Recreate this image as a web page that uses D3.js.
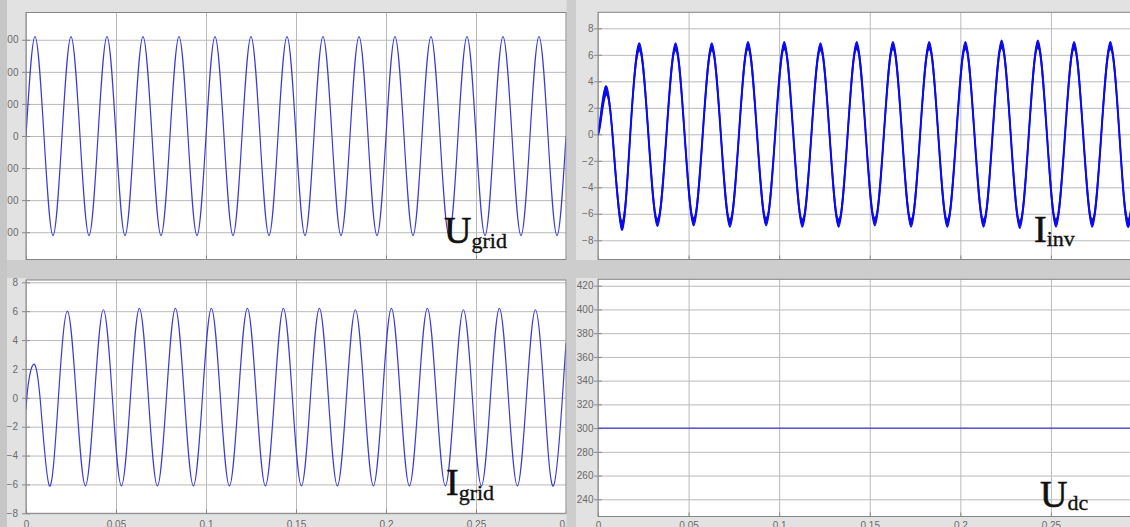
<!DOCTYPE html>
<html>
<head>
<meta charset="utf-8">
<script src="https://cdn.jsdelivr.net/npm/d3@7"></script>
<style>
  html, body { margin: 0; padding: 0; background: #d0d0d0; }
  svg { display: block; }
</style>
</head>
<body>
<svg id="chart" width="1130" height="527"></svg>
<script>
// ---------- data ----------
const xTicks = [0, 0.05, 0.1, 0.15, 0.2, 0.25, 0.3];
const xTickLabels = ["0", "0.05", "0.1", "0.15", "0.2", "0.25", "0.3"];

const ugridTicks = [-300, -200, -100, 0, 100, 200, 300];
const iinvTicks = [-8, -6, -4, -2, 0, 2, 4, 6, 8];
const igridTicks = [-8, -6, -4, -2, 0, 2, 4, 6, 8];
const udcTicks = [240, 260, 280, 300, 320, 340, 360, 380, 400, 420];

// U_grid (V)
const ugridTime = [0,0.005,0.01,0.015,0.02,0.025,0.03,0.035,0.04,0.045,0.05,0.055,0.06,0.065,0.07,0.075,0.08,0.085,0.09,0.095,0.1,0.105,0.11,0.115,0.12,0.125,0.13,0.135,0.14,0.145,0.15,0.155,0.16,0.165,0.17,0.175,0.18,0.185,0.19,0.195,0.2,0.205,0.21,0.215,0.22,0.225,0.23,0.235,0.24,0.245,0.25,0.255,0.26,0.265,0.27,0.275,0.28,0.285,0.29,0.295,0.3];
const ugridValue = [
  0,310,0,-310, 0,310,0,-310, 0,310,0,-310, 0,310,0,-310, 0,310,0,-310,
  0,310,0,-310, 0,310,0,-310, 0,310,0,-310, 0,310,0,-310, 0,310,0,-310,
  0,310,0,-310, 0,310,0,-310, 0,310,0,-310, 0,310,0,-310, 0,310,0,-310,
  0];

// I_inv (A)
const iinvTime = [0,0.0015,0.0043,0.008,0.0131,
  0.0178,0.0228,0.0278,0.0328, 0.0378,0.0428,0.0478,0.0528, 0.0578,0.0628,0.0678,0.0728,
  0.0778,0.0828,0.0878,0.0928, 0.0978,0.1028,0.1078,0.1128, 0.1178,0.1228,0.1278,0.1328,
  0.1378,0.1428,0.1478,0.1528, 0.1578,0.1628,0.1678,0.1728, 0.1778,0.1828,0.1878,0.1928,
  0.1978,0.2028,0.2078,0.2128, 0.2178,0.2228,0.2278,0.2328, 0.2378,0.2428,0.2478,0.2528,
  0.2578,0.2628,0.2678,0.2728, 0.2778,0.2828,0.2878,0.2928,
  0.2978,0.3];
const iinvValue = [0,1.2,3.3,0,-6.9,
  0,6.6,0,-6.65, 0,6.6,0,-6.6, 0,6.6,0,-6.7,
  0,6.7,0,-6.6, 0,6.7,0,-6.7, 0,6.6,0,-6.7,
  0,6.7,0,-6.6, 0,6.7,0,-6.7, 0,6.7,0,-6.7,
  0,6.7,0,-6.7, 0,6.8,0,-6.8, 0,6.8,0,-6.7,
  0,6.7,0,-6.7, 0,6.7,0,-6.7,
  0,4.1];
const iinvRipple = [0.08,0.35,0.35,0.08,0.32,
  0.08,0.3,0.08,0.3, 0.08,0.3,0.08,0.3, 0.08,0.3,0.08,0.3,
  0.08,0.3,0.08,0.3, 0.08,0.3,0.08,0.3, 0.08,0.3,0.08,0.3,
  0.08,0.3,0.08,0.3, 0.08,0.3,0.08,0.3, 0.08,0.3,0.08,0.3,
  0.08,0.3,0.08,0.3, 0.08,0.3,0.08,0.3, 0.08,0.3,0.08,0.3,
  0.08,0.3,0.08,0.3, 0.08,0.3,0.08,0.3,
  0.08,0.08];

// I_grid (A)
const igridTime = [0,0.0012,0.004,0.0078,0.013,
  0.018,0.023,0.028,0.033, 0.038,0.043,0.048,0.053, 0.058,0.063,0.068,0.073,
  0.078,0.083,0.088,0.093, 0.098,0.103,0.108,0.113, 0.118,0.123,0.128,0.133,
  0.138,0.143,0.148,0.153, 0.158,0.163,0.168,0.173, 0.178,0.183,0.188,0.193,
  0.198,0.203,0.208,0.213, 0.218,0.223,0.228,0.233, 0.238,0.243,0.248,0.253,
  0.258,0.263,0.268,0.273, 0.278,0.283,0.288,0.293,
  0.298,0.3];
const igridValue = [-0.8,0.9,2.3,0,-6.1,
  0,6.0,0,-6.1, 0,6.1,0,-6.1, 0,6.2,0,-6.1,
  0,6.2,0,-6.1, 0,6.2,0,-6.1, 0,6.2,0,-6.1,
  0,6.2,0,-6.1, 0,6.2,0,-6.1, 0,6.1,0,-6.1,
  0,6.2,0,-6.1, 0,6.2,0,-6.1, 0,6.1,0,-6.1,
  0,6.2,0,-6.1, 0,6.1,0,-6.1,
  0,3.8];

// U_dc (V)
const udcTime = [0, 0.3];
const udcValue = [300, 300];

// ---------- drawing ----------
const svg = d3.select("#chart");
const W = 1130, H = 527;

// figure background zones
const light = "#e2e2e2";
svg.append("rect").attr("x", 0).attr("y", 0).attr("width", W).attr("height", H).attr("fill", "#cdcdcd");
[[7, 0, W - 7, 12.5], [7, 0, 19, 260], [7, 278, 19, 249], [576, 0, 22, 260], [576, 278, 22, 249], [7, 513, W - 7, 14]]
  .forEach(r => svg.append("rect").attr("x", r[0]).attr("y", r[1]).attr("width", r[2]).attr("height", r[3]).attr("fill", light));

const panels = [
  { id: "ugrid", x0: 26, x1: 566, y0: 259.5, y1: 12.5, dom: [-385, 385], ticks: ugridTicks,
    pts: d3.zip(ugridTime, ugridValue), color: "#3a3ad8", width: 1.2, xLabels: false, labelEnd: 18.5,
    title: { main: "U", sub: "grid", x: 444, y: 243, dy: 4.5 } },
  { id: "iinv", x0: 598, x1: 1141.5, y0: 259.5, y1: 12.3, dom: [-9.45, 9.21], ticks: iinvTicks,
    pts: d3.zip(iinvTime, iinvValue, iinvRipple), color: "#0a0af0", width: 2, xLabels: false, labelEnd: 593.5, ripple: true,
    title: { main: "I", sub: "inv", x: 1034, y: 242, dy: 4 } },
  { id: "igrid", x0: 26, x1: 566, y0: 513.3, y1: 280, dom: [-8, 8.16], ticks: igridTicks,
    pts: d3.zip(igridTime, igridValue), color: "#3a3ad8", width: 1.2, xLabels: true, labelEnd: 18,
    title: { main: "I", sub: "grid", x: 446, y: 495, dy: 4.5 } },
  { id: "udc", x0: 598, x1: 1141.5, y0: 516.5, y1: 279.3, dom: [225.5, 425.4], ticks: udcTicks,
    pts: d3.zip(udcTime, udcValue), color: "#3a3ad8", width: 1.2, xLabels: true, labelEnd: 593.5,
    title: { main: "U", sub: "dc", x: 1040, y: 507, dy: 3 } }
];

panels.forEach(p => {
  const x = d3.scaleLinear().domain([0, 0.3]).range([p.x0, p.x1]);
  const y = d3.scaleLinear().domain(p.dom).range([p.y0, p.y1]);
  const g = svg.append("g");

  // plot area
  g.append("rect").attr("x", p.x0).attr("y", p.y1).attr("width", p.x1 - p.x0).attr("height", p.y0 - p.y1)
    .attr("fill", "#ffffff");

  // grid
  const gy = g.append("g").attr("transform", `translate(${p.x0},0)`)
    .call(d3.axisLeft(y).tickValues(p.ticks).tickSize(-(p.x1 - p.x0)).tickFormat(""));
  gy.select(".domain").remove();
  gy.selectAll("line").attr("stroke", "#bababa").attr("stroke-width", 1);
  const gx = g.append("g").attr("transform", `translate(0,${p.y0})`)
    .call(d3.axisBottom(x).tickValues(xTicks).tickSize(-(p.y0 - p.y1)).tickFormat(""));
  gx.select(".domain").remove();
  gx.selectAll("line").attr("stroke", "#bababa").attr("stroke-width", 1);

  // y tick marks + labels
  const ay = g.append("g").attr("transform", `translate(${p.x0},0)`)
    .call(d3.axisLeft(y).tickValues(p.ticks).tickSize(4).tickPadding(p.x0 - p.labelEnd - 4));
  ay.select(".domain").remove();
  ay.selectAll("line").attr("stroke", "#8a8a8a");
  ay.selectAll("text").attr("fill", "#6a6a6a").style("font-family", "'Liberation Sans', Arial, sans-serif").style("font-size", "10px");
  // inner tick marks
  const ai = g.append("g").attr("transform", `translate(${p.x0},0)`)
    .call(d3.axisRight(y).tickValues(p.ticks).tickSize(4).tickFormat(""));
  ai.select(".domain").remove();
  ai.selectAll("line").attr("stroke", "#8a8a8a");
  const bi = g.append("g").attr("transform", `translate(0,${p.y0})`)
    .call(d3.axisTop(x).tickValues(xTicks).tickSize(4).tickFormat(""));
  bi.select(".domain").remove();
  bi.selectAll("line").attr("stroke", "#8a8a8a");

  if (p.xLabels) {
    const ax = g.append("g").attr("transform", `translate(0,${p.y0})`)
      .call(d3.axisBottom(x).tickValues(xTicks).tickSize(0).tickPadding(5)
        .tickFormat((d, i) => xTickLabels[i]));
    ax.select(".domain").remove();
    ax.selectAll("text").attr("fill", "#6a6a6a").attr("dy", "0").attr("y", 528.5 - p.y0)
      .style("font-family", "'Liberation Sans', Arial, sans-serif").style("font-size", "10px");
  }

  // clip
  const clipId = "clip-" + p.id;
  svg.append("clipPath").attr("id", clipId).append("rect")
    .attr("x", p.x0).attr("y", p.y1).attr("width", p.x1 - p.x0).attr("height", p.y0 - p.y1);
  const plot = g.append("g").attr("clip-path", `url(#${clipId})`);

  if (p.ripple) {
    const band = d3.area().curve(d3.curveNatural)
      .x(d => x(d[0])).y0(d => y(d[1] - d[2])).y1(d => y(d[1] + d[2]));
    plot.append("path").datum(p.pts).attr("d", band).attr("fill", p.color).attr("stroke", p.color).attr("stroke-width", 1.4);
  }
  const line = d3.line().curve(d3.curveNatural).x(d => x(d[0])).y(d => y(d[1]));
  plot.append("path").datum(p.pts).attr("d", line)
    .attr("fill", "none").attr("stroke", p.color).attr("stroke-width", p.width);

  // border
  g.append("rect").attr("x", p.x0).attr("y", p.y1).attr("width", p.x1 - p.x0).attr("height", p.y0 - p.y1)
    .attr("fill", "none").attr("stroke", "#858585").attr("stroke-width", 1);

  // title
  const t = g.append("text").attr("x", p.title.x).attr("y", p.title.y)
    .attr("fill", "#111").attr("stroke", "#111").attr("stroke-width", 0.6)
    .style("font-family", "'Liberation Serif', 'Times New Roman', serif").style("font-size", "38px")
    .text(p.title.main);
  t.append("tspan").attr("dy", p.title.dy).attr("stroke-width", 0.35).style("font-size", "22px").text(p.title.sub);
});

// left dark strip (window frame) on top of cropped labels
svg.append("rect").attr("x", 0).attr("y", 0).attr("width", 7).attr("height", H).attr("fill", "#c6c6c6");
// separator between left and right columns
svg.append("rect").attr("x", 566.5).attr("y", 0).attr("width", 9.5).attr("height", H).attr("fill", "#cdcdcd");
</script>
</body>
</html>
